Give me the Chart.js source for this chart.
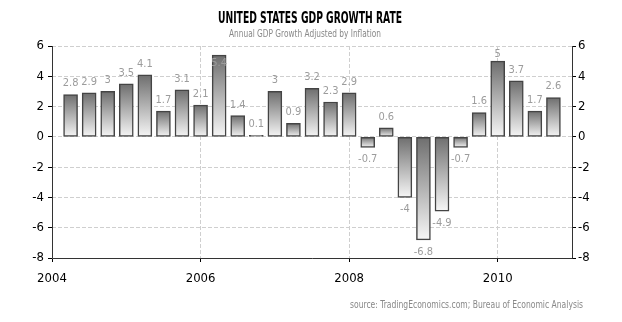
<!DOCTYPE html>
<html>
<head>
<meta charset="utf-8">
<script src="https://cdn.jsdelivr.net/npm/chart.js@4/dist/chart.umd.min.js"></script>
<style>
  html, body { margin: 0; padding: 0; background: #fff; }
</style>
</head>
<body>
<canvas id="chart-gdp" width="622" height="322"></canvas>
<script>
// quarterly US GDP growth, annualised (%)
const quarters = [
  '2004Q1', '2004Q2', '2004Q3', '2004Q4',
  '2005Q1', '2005Q2', '2005Q3', '2005Q4',
  '2006Q1', '2006Q2', '2006Q3', '2006Q4',
  '2007Q1', '2007Q2', '2007Q3', '2007Q4',
  '2008Q1', '2008Q2', '2008Q3', '2008Q4',
  '2009Q1', '2009Q2', '2009Q3', '2009Q4',
  '2010Q1', '2010Q2', '2010Q3'
];
const gdpGrowth = [
  2.8, 2.9, 3, 3.5,
  4.1, 1.7, 3.1, 2.1,
  5.4, 1.4, 0.1, 3,
  0.9, 3.2, 2.3, 2.9,
  -0.7, 0.6, -4, -6.8,
  -4.9, -0.7, 1.6, 5,
  3.7, 1.7, 2.6
];
const yearTicks = [2004, 2006, 2008, 2010];
const yTicks = [-8, -6, -4, -2, 0, 2, 4, 6];

const narrow = '"Liberation Sans Narrow", "DejaVu Sans Condensed", sans-serif';

// bars sit at the end of their quarter
const quarterEnd = (q) => Number(q.slice(0, 4)) + Number(q.slice(5)) / 4;
const points = quarters.map((q, i) => ({ x: quarterEnd(q), y: gdpGrowth[i] }));

const barFill = (c) => {
  const chart = c.chart;
  const y = chart.scales.y;
  if (!chart.chartArea || !c.raw || !y) return '#aaa';
  const top = y.getPixelForValue(Math.max(c.raw.y, 0));
  const bottom = y.getPixelForValue(Math.min(c.raw.y, 0));
  const g = chart.ctx.createLinearGradient(0, top, 0, bottom + 0.01);
  g.addColorStop(0, '#6e6e6e');
  g.addColorStop(1, '#f6f6f6');
  return g;
};

const valueLabels = {
  id: 'valueLabels',
  afterDatasetsDraw(chart) {
    const { ctx, chartArea } = chart;
    const meta = chart.getDatasetMeta(0);
    ctx.save();
    ctx.font = '11px ' + narrow;
    ctx.fillStyle = '#9c9c9c';
    ctx.textAlign = 'center';
    ctx.textBaseline = 'middle';
    meta.data.forEach((bar, i) => {
      const v = gdpGrowth[i];
      let y;
      if (v >= 0) {
        y = bar.y - 11;
        if (y < chartArea.top + 6) y = bar.y - 7;
        if (y < chartArea.top + 6) y = bar.y + 8;
      } else {
        y = bar.y + 12;
      }
      ctx.fillText(String(v), bar.x, y);
    });
    ctx.restore();
  }
};

const frame = {
  id: 'frame',
  afterDraw(chart) {
    const { ctx, chartArea: a } = chart;
    ctx.save();
    ctx.strokeStyle = '#333';
    ctx.lineWidth = 1;
    ctx.beginPath();
    ctx.moveTo(a.left + 0.5, a.top);
    ctx.lineTo(a.left + 0.5, a.bottom + 0.5);
    ctx.lineTo(a.right + 0.5, a.bottom + 0.5);
    ctx.lineTo(a.right + 0.5, a.top);
    ctx.stroke();

    ctx.textAlign = 'center';
    ctx.textBaseline = 'middle';
    ctx.fillStyle = '#000';
    ctx.font = 'bold 15px ' + narrow;
    ctx.fillText('UNITED STATES GDP GROWTH RATE', 310, 19, 184);
    ctx.fillStyle = '#888';
    ctx.font = '10px ' + narrow;
    ctx.fillText('Annual GDP Growth Adjusted by Inflation', 305, 34, 152);
    ctx.textAlign = 'right';
    ctx.fillText('source: TradingEconomics.com; Bureau of Economic Analysis', 583, 305, 233);
    ctx.restore();
  }
};

const gridDash = [4, 2];

new Chart(document.getElementById('chart-gdp'), {
  type: 'bar',
  data: {
    datasets: [{
      data: points,
      backgroundColor: barFill,
      borderColor: '#444',
      borderWidth: 1.5,
      borderSkipped: false,
      barThickness: 14
    }]
  },
  options: {
    responsive: false,
    animation: false,
    layout: { padding: { top: 46, bottom: 34, left: 0, right: 0 } },
    plugins: {
      legend: { display: false },
      tooltip: { enabled: false }
    },
    scales: {
      x: {
        type: 'linear',
        min: 2004,
        max: 2011,
        offset: false,
        afterFit: (s) => { s.height = 30; },
        afterBuildTicks: (s) => { s.ticks = yearTicks.map((v) => ({ value: v })); },
        grid: {
          offset: false,
          color: '#cfcfcf',
          tickColor: '#000',
          tickLength: 4,
          tickBorderDash: []
        },
        border: { display: false, dash: gridDash },
        ticks: {
          padding: 9,
          color: '#000',
          font: { family: narrow, size: 13 },
          callback: (v) => String(v)
        }
      },
      y: {
        position: 'left',
        min: -8,
        max: 6,
        afterFit: (s) => { s.width = 52; },
        afterBuildTicks: (s) => { s.ticks = yTicks.map((v) => ({ value: v })); },
        grid: {
          color: '#cfcfcf',
          tickColor: '#000',
          tickLength: 4,
          tickBorderDash: []
        },
        border: { display: false, dash: gridDash },
        ticks: {
          padding: 4,
          color: '#000',
          font: { family: narrow, size: 13 }
        }
      },
      y2: {
        position: 'right',
        min: -8,
        max: 6,
        afterFit: (s) => { s.width = 50; },
        afterBuildTicks: (s) => { s.ticks = yTicks.map((v) => ({ value: v })); },
        grid: {
          drawOnChartArea: false,
          tickColor: '#000',
          tickLength: 4,
          tickBorderDash: []
        },
        border: { display: false },
        ticks: {
          padding: 2,
          color: '#000',
          font: { family: narrow, size: 13 }
        }
      }
    }
  },
  plugins: [valueLabels, frame]
});
</script>
</body>
</html>
